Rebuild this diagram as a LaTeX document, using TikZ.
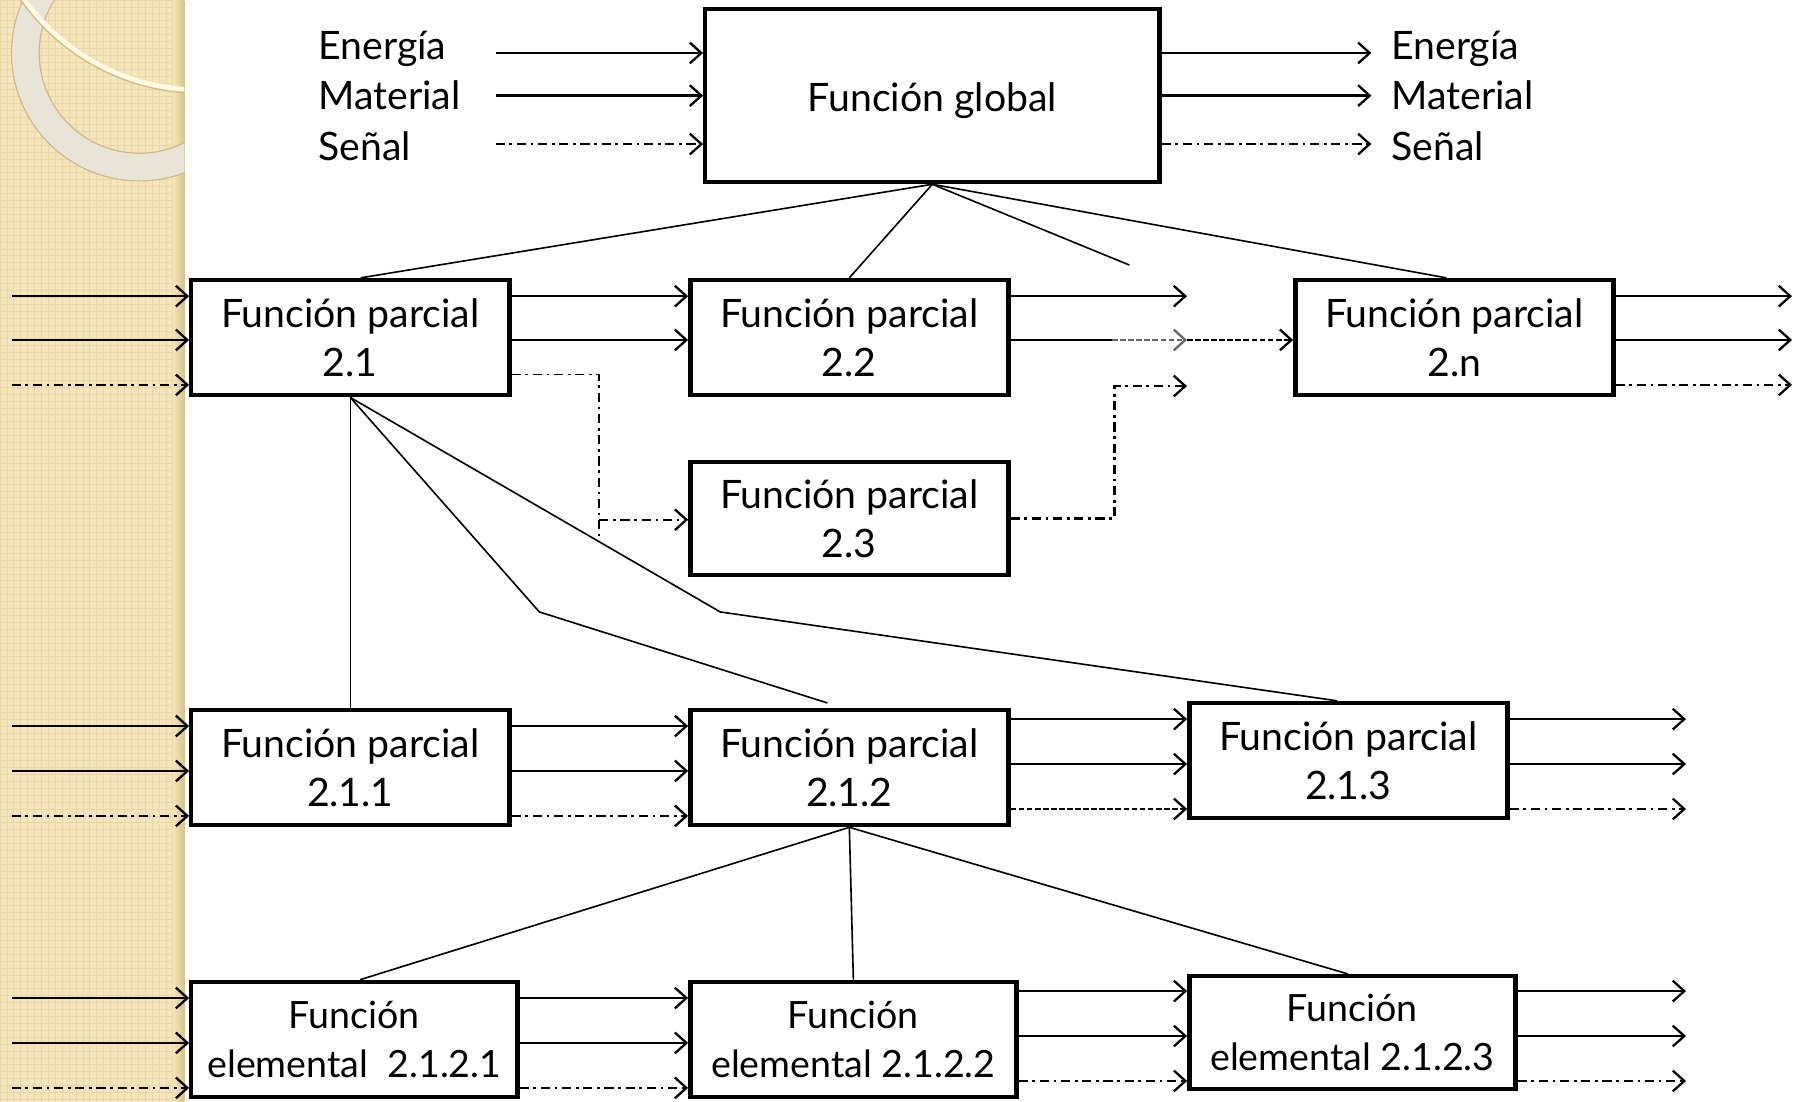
\documentclass[tikz,border=0pt]{standalone}
\usepackage{fontspec}
\setmainfont{Lato}
\usetikzlibrary{arrows.meta,calc}
\definecolor{band}{HTML}{F5E5BD}
\definecolor{bandline}{HTML}{EAD7A6}
\definecolor{bandedge}{HTML}{D8C38C}
\definecolor{ringc}{HTML}{E9E4D8}
\definecolor{ringedge}{HTML}{CDB98A}
\definecolor{arcc}{HTML}{FFF8E2}
\begin{document}
\begin{tikzpicture}[x=0.5pt,y=-0.5pt,
  txt/.style={font=\fontsize{17pt}{21.5pt}\selectfont},
  box/.style={txt,draw,line width=1.9pt,fill=white,align=center,inner sep=0pt,
    minimum width=138pt,minimum height=50pt},
  ebox/.style={box,font=\fontsize{16.3pt}{21.5pt}\selectfont,minimum width=141.5pt},
  lab/.style={txt,inner sep=0pt},
  tip/.style={-{Straight Barb[length=5pt,width=9pt,line width=1pt]}},
  flow/.style={line width=1pt,tip},
  sig/.style={line width=1pt,tip,dash pattern=on 4pt off 2pt on 1.2pt off 2pt},
  sigline/.style={line width=0.8pt,dash pattern=on 4pt off 2pt on 1.2pt off 2pt},
  dsig/.style={line width=1pt,tip,dash pattern=on 2.5pt off 1pt},
  tree/.style={line width=0.7pt}
]
\useasboundingbox (0,0) rectangle (1568,956);
% ---- decorative left band
\fill[band] (0,0) rectangle (160,956);
\begin{scope}
  \clip (0,0) rectangle (160,956);
  \foreach \i in {0,6,...,160} {\draw[bandline,line width=0.35pt] (\i,0) -- (\i,956);}
  \foreach \j in {0,6,...,956} {\draw[bandline,line width=0.35pt] (0,\j) -- (160,\j);}
  \shade[left color=band,right color=bandedge] (150,0) rectangle (160,956);
  \fill[ringc,even odd rule] (121,46) circle[radius=55.5pt] (121,46) circle[radius=43.5pt];
  \draw[ringedge,line width=0.5pt] (121,46) circle[radius=55.5pt];
  \draw[ringedge,line width=0.5pt] (121,46) circle[radius=43.5pt];
  \draw[ringedge,line width=0.5pt] (174,-110) circle[radius=95.5pt];
  \draw[arcc,line width=2pt] (174,-110) circle[radius=94pt];
\end{scope}

% ---- nodes
\node[box,minimum width=197pt,minimum height=75pt] (G) at (809,83) {\raisebox{-7pt}[0pt][0pt]{Función global}};
\node[lab,anchor=base west] (lE) at (276,52) {Energía};
\node[lab,anchor=base west] (lM) at (276,95) {Material};
\node[lab,anchor=base west] (lS) at (276,139) {Señal};
\node[lab,anchor=base west] (rE) at (1207,52) {Energía};
\node[lab,anchor=base west] (rM) at (1207,95) {Material};
\node[lab,anchor=base west] (rS) at (1207,139) {Señal};

\node[box] (n21) at (304,293) {Función parcial\\2.1};
\node[box] (n22) at (737,293) {Función parcial\\2.2};
\node[box] (n2n) at (1262,293) {Función parcial\\2.n};
\node[box,minimum height=49pt] (n23) at (737,450) {Función parcial\\2.3};

\node[box] (n211) at (304,666) {Función parcial\\2.1.1};
\node[box] (n212) at (737,666) {Función parcial\\2.1.2};
\node[box] (n213) at (1170,660) {Función parcial\\2.1.3};

\node[ebox] (E1) at (307.5,902) {Función\\elemental~ 2.1.2.1};
\node[ebox] (E2) at (740.5,902) {Función\\elemental 2.1.2.2};
\node[ebox,minimum height=49pt] (E3) at (1173.5,896) {Función\\elemental 2.1.2.3};

% ---- free ends
\coordinate (iE) at (430,46);  \coordinate (iM) at (430,83);  \coordinate (iS) at (430,125);
\coordinate (oE) at (1190,46); \coordinate (oM) at (1190,83); \coordinate (oS) at (1190,125);
\coordinate (a1) at (10,257); \coordinate (a2) at (10,295); \coordinate (a3) at (10,334);
\coordinate (b1) at (1030,257); \coordinate (b2) at (1030,295); \coordinate (b3) at (1030,335);
\coordinate (c1) at (1555,257); \coordinate (c2) at (1555,295); \coordinate (c3) at (1555,334);
\coordinate (d1) at (10,630); \coordinate (d2) at (10,669); \coordinate (d3) at (10,708);
\coordinate (e1) at (1463,624); \coordinate (e2) at (1463,663); \coordinate (e3) at (1463,702);
\coordinate (f1) at (10,866); \coordinate (f2) at (10,905); \coordinate (f3) at (10,944);
\coordinate (g1) at (1463,860); \coordinate (g2) at (1463,899); \coordinate (g3) at (1463,938);

% ---- global function flows
\draw[flow] (iE) -- (iE -| G.west);
\draw[flow] (iM) -- (iM -| G.west);
\draw[sig]  (iS) -- (iS -| G.west);
\draw[flow] (oE -| G.east) -- (oE);
\draw[flow] (oM -| G.east) -- (oM);
\draw[sig]  (oS -| G.east) -- (oS);

% ---- tree lines
\coordinate (t1) at (980,230);
\draw[tree] (G.south) -- ([xshift=4.5pt]n21.north);
\draw[tree] (G.south) -- (n22.north);
\draw[tree] (G.south) -- (t1);
\draw[tree] (G.south) -- ([xshift=-3.5pt]n2n.north);
\coordinate (t2) at (468,531); \coordinate (t3) at (718,610); \coordinate (t4) at (625,531);
\draw[tree] (n21.south) -- (n211.north);
\draw[tree] (n21.south) -- (t2) -- (t3);
\draw[tree] (n21.south) -- (t4) -- ([xshift=-5pt]n213.north);
\draw[tree] (n212.south) -- ([xshift=2.5pt]E1.north);
\draw[tree] (n212.south) -- (E2.north);
\draw[tree] (n212.south) -- ([xshift=-2pt]E3.north);

% ---- row 2
\draw[flow] (a1) -- (a1 -| n21.west);
\draw[flow] (a2) -- (a2 -| n21.west);
\draw[sig]  (a3) -- (a3 -| n21.west);
\draw[flow] (a1 -| n21.east) -- (a1 -| n22.west);
\draw[flow] (a2 -| n21.east) -- (a2 -| n22.west);
\coordinate (s1) at (520,325); \coordinate (s2) at (520,465); \coordinate (s3) at (520,451);
\draw[sigline] (s1 -| n21.east) -- (s1) -- (s2);
\draw[sig] (s3) -- (s3 -| n23.west);
\draw[flow] (b1 -| n22.east) -- (b1);
\coordinate (m) at (965,295);
\draw[line width=1pt] (b2 -| n22.east) -- (m);
\draw[dsig,black!60] (m) -- (b2);
\draw[dsig] (b2) -- (b2 -| n2n.west);
\coordinate (k) at (967,335);
\draw[sig] (n23.east) -| (k) -- (b3);
\draw[flow] (c1 -| n2n.east) -- (c1);
\draw[flow] (c2 -| n2n.east) -- (c2);
\draw[sig]  (c3 -| n2n.east) -- (c3);

% ---- row 3
\draw[flow] (d1) -- (d1 -| n211.west);
\draw[flow] (d2) -- (d2 -| n211.west);
\draw[sig]  (d3) -- (d3 -| n211.west);
\draw[flow] (d1 -| n211.east) -- (d1 -| n212.west);
\draw[flow] (d2 -| n211.east) -- (d2 -| n212.west);
\draw[sig]  (d3 -| n211.east) -- (d3 -| n212.west);
\draw[flow] (e1 -| n212.east) -- (e1 -| n213.west);
\draw[flow] (e2 -| n212.east) -- (e2 -| n213.west);
\draw[dsig] (e3 -| n212.east) -- (e3 -| n213.west);
\draw[flow] (e1 -| n213.east) -- (e1);
\draw[flow] (e2 -| n213.east) -- (e2);
\draw[sig]  (e3 -| n213.east) -- (e3);

% ---- row 4
\draw[flow] (f1) -- (f1 -| E1.west);
\draw[flow] (f2) -- (f2 -| E1.west);
\draw[sig]  (f3) -- (f3 -| E1.west);
\draw[flow] (f1 -| E1.east) -- (f1 -| E2.west);
\draw[flow] (f2 -| E1.east) -- (f2 -| E2.west);
\draw[sig]  (f3 -| E1.east) -- (f3 -| E2.west);
\draw[flow] (g1 -| E2.east) -- (g1 -| E3.west);
\draw[flow] (g2 -| E2.east) -- (g2 -| E3.west);
\draw[sig]  (g3 -| E2.east) -- (g3 -| E3.west);
\draw[flow] (g1 -| E3.east) -- (g1);
\draw[flow] (g2 -| E3.east) -- (g2);
\draw[sig]  (g3 -| E3.east) -- (g3);
\end{tikzpicture}
\end{document}
